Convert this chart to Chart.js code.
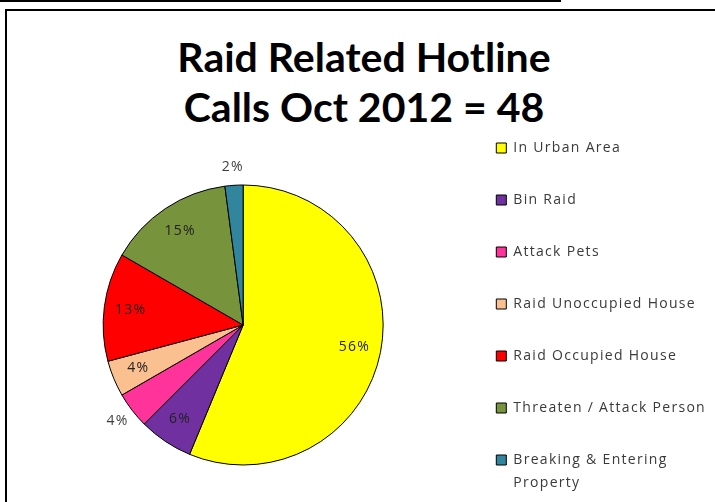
<!DOCTYPE html>
<html>
<head>
<meta charset="utf-8">
<script src="https://cdn.jsdelivr.net/npm/chart.js@4.4.1/dist/chart.umd.min.js"></script>
<style>
  html, body { margin: 0; padding: 0; background: #fff; overflow: hidden; width: 715px; height: 502px; }
  .topline { position: absolute; left: 0; top: 0; width: 561px; height: 2px; background: #000; }
  .frame { position: absolute; left: 5px; top: 9px; width: 760px; height: 520px;
           border-left: 2px solid #000; border-top: 2px solid #000; }
  .title { position: absolute; left: 0; top: 32px; width: 728px; text-align: center;
           font: bold 41px/50px Lato, "Liberation Sans", sans-serif; color: #000; }
  .chart-box { position: absolute; left: 0; top: 103px; width: 760px; height: 444px; }
</style>
</head>
<body>
<div class="topline"></div>
<div class="frame"></div>
<div class="title">Raid Related Hotline<br>Calls Oct 2012 = 48</div>
<div class="chart-box"><canvas id="pie"></canvas></div>
<script>
// hotline calls for October 2012, by category
var categorias = [
  "In Urban Area",
  "Bin Raid",
  "Attack Pets",
  "Raid Unoccupied House",
  "Raid Occupied House",
  "Threaten / Attack Person",
  ["Breaking & Entering", "Property"]
];
var chamadas = [27, 3, 2, 2, 6, 7, 1];
var cores = ["#FFFF00", "#7030A0", "#FF3399", "#FAC090", "#FF0000", "#77933C", "#31859C"];

// a bit of tracking on all canvas text (legend is measured during layout)
var espacamento = {
  id: "espacamento",
  beforeLayout: function (chart) { chart.ctx.letterSpacing = "1.3px"; },
  beforeDraw: function (chart) { chart.ctx.letterSpacing = "1.3px"; }
};

// percent labels on the slices (a couple sit outside the pie)
var rotulos = {
  id: "rotulos",
  afterDatasetsDraw: function (chart, args, opts) {
    var ctx = chart.ctx;
    var meta = chart.getDatasetMeta(0);
    var dados = chart.data.datasets[0].data;
    var total = dados.reduce(function (a, b) { return a + b; }, 0);
    ctx.save();
    ctx.font = "14px 'Open Sans', sans-serif";
    ctx.textAlign = "center";
    ctx.textBaseline = "middle";
    meta.data.forEach(function (arc, i) {
      var fora = opts.fora.indexOf(i) >= 0;
      var meio = (arc.startAngle + arc.endAngle) / 2;
      var r = arc.outerRadius * (fora ? 1.13 : 0.81);
      var x = arc.x + Math.cos(meio) * r;
      var y = arc.y + Math.sin(meio) * r;
      ctx.fillStyle = fora ? "#404040" : "#222";
      ctx.fillText(Math.round(dados[i] / total * 100) + "%", x, y);
    });
    ctx.restore();
  }
};

new Chart(document.getElementById("pie"), {
  type: "pie",
  data: {
    labels: categorias,
    datasets: [{
      data: chamadas,
      backgroundColor: cores,
      borderColor: "#000",
      borderWidth: 1,
      radius: 140
    }]
  },
  options: {
    responsive: true,
    maintainAspectRatio: false,
    animation: false,
    events: [],
    layout: { padding: { left: 28, right: 44, top: 0, bottom: 0 } },
    plugins: {
      title: { display: false },
      tooltip: { enabled: false },
      rotulos: { fora: [2, 6] },
      legend: {
        position: "right",
        align: "start",
        labels: {
          boxWidth: 10,
          boxHeight: 10,
          padding: 38,
          color: "#3a3a3a",
          font: { family: "'Open Sans', sans-serif", size: 14, lineHeight: "23px" }
        }
      }
    }
  },
  plugins: [espacamento, rotulos]
});
</script>
</body>
</html>
